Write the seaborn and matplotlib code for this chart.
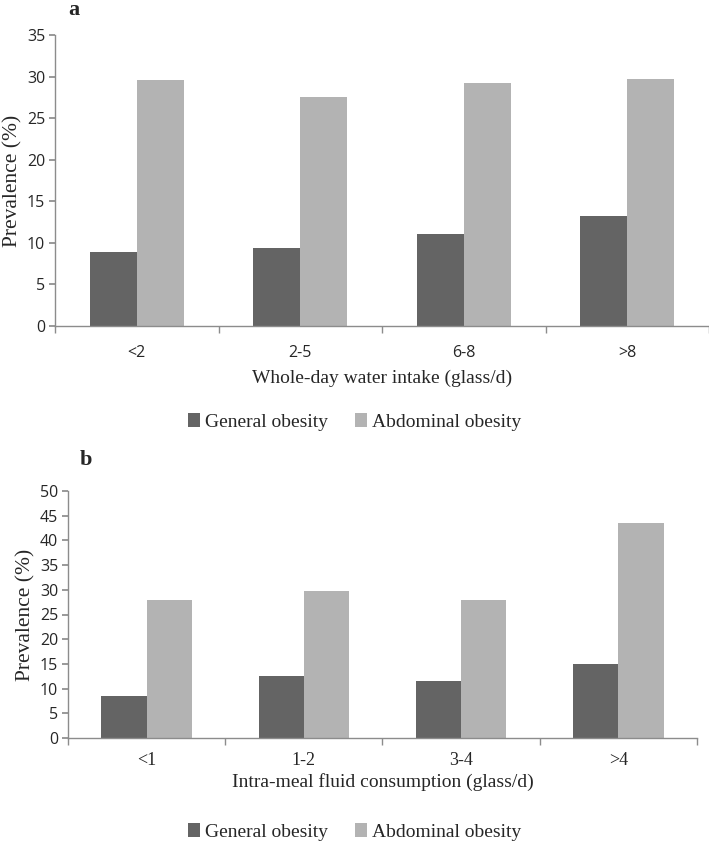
import matplotlib
matplotlib.use("Agg")
import matplotlib.pyplot as plt
import seaborn as sns
import pandas as pd
from matplotlib.patches import Patch

sns.set_theme(style="white")
plt.rcParams['font.family'] = ['Liberation Serif', 'DejaVu Serif']

series = ["General obesity", "Abdominal obesity"]
colors = ["#646464", "#b3b3b3"]

cats_a = ["<2", "2-5", "6-8", ">8"]
general_a = [8.9, 9.4, 11.1, 13.2]
abdominal_a = [29.6, 27.6, 29.2, 29.7]

cats_b = ["<1", "1-2", "3-4", ">4"]
general_b = [8.5, 12.5, 11.5, 14.9]
abdominal_b = [28.0, 29.7, 27.9, 43.6]

def make_df(cats, g, a):
    return pd.DataFrame({
        "cat": cats * 2,
        "val": list(g) + list(a),
        "series": [series[0]] * len(cats) + [series[1]] * len(cats),
    })

fig = plt.figure(figsize=(7.09, 8.42), dpi=100)
ax_a = fig.add_axes([55/709, 1 - 326/842, 654/709, 291/842])
ax_b = fig.add_axes([68/709, 1 - 738/842, 629/709, 247/842])

axis_col = "#8c8c8c"

def style(ax, df, ymax, step, xlabel, tickfont, tickfam, tpad, lpad):
    sns.barplot(data=df, x="cat", y="val", hue="series", palette=colors,
                width=0.575, ax=ax, legend=False, saturation=1)
    for p in ax.patches:
        p.set_edgecolor("none")
    ax.set_ylim(0, ymax)
    ax.set_xlim(-0.5, 3.5)
    ax.set_yticks(range(0, ymax + 1, step))
    ax.set_yticklabels([str(v) for v in range(0, ymax + 1, step)],
                       family=["Open Sans"], fontsize=11.5)
    for s in ["top", "right"]:
        ax.spines[s].set_visible(False)
    for s in ["left", "bottom"]:
        ax.spines[s].set_color(axis_col)
        ax.spines[s].set_linewidth(1.0)
    ax.tick_params(axis="y", left=True, length=4, color=axis_col, pad=3)
    ax.tick_params(axis="x", bottom=False, pad=tpad)
    ax.set_xticks([0, 1, 2, 3])
    ax.set_xticklabels(ax.get_xticklabels(), family=tickfam, fontsize=tickfont)
    ax.set_xticks([-0.5, 0.5, 1.5, 2.5, 3.5], minor=True)
    ax.tick_params(axis="x", which="minor", bottom=True, length=5, color=axis_col)
    ax.set_xlabel(xlabel, fontsize=14, labelpad=lpad)
    ax.set_ylabel("Prevalence (%)", fontsize=15.5, labelpad=3)

style(ax_a, make_df(cats_a, general_a, abdominal_a), 35, 5,
      "Whole-day water intake (glass/d)", 11.5, ["Open Sans"], 8, 6)
style(ax_b, make_df(cats_b, general_b, abdominal_b), 50, 5,
      "Intra-meal fluid consumption (glass/d)", 13, ["Liberation Serif"], 4, 3)

handles = [Patch(facecolor=c, edgecolor="none") for c in colors]
for ax, y in [(ax_a, 1 - 422/842), (ax_b, 1 - 832/842)]:
    fig.legend(handles, series, loc="center", bbox_to_anchor=(0.5, y),
               ncol=2, frameon=False, fontsize=14, handlelength=0.6,
               handleheight=0.75, handletextpad=0.25, columnspacing=1.4)

fig.text(68/709, 1 - 10/842, "a", fontsize=16, fontweight="bold", va="center")
fig.text(80/709, 1 - 460/842, "b", fontsize=16, fontweight="bold", va="center")

fig.savefig("out.png", dpi=100)
